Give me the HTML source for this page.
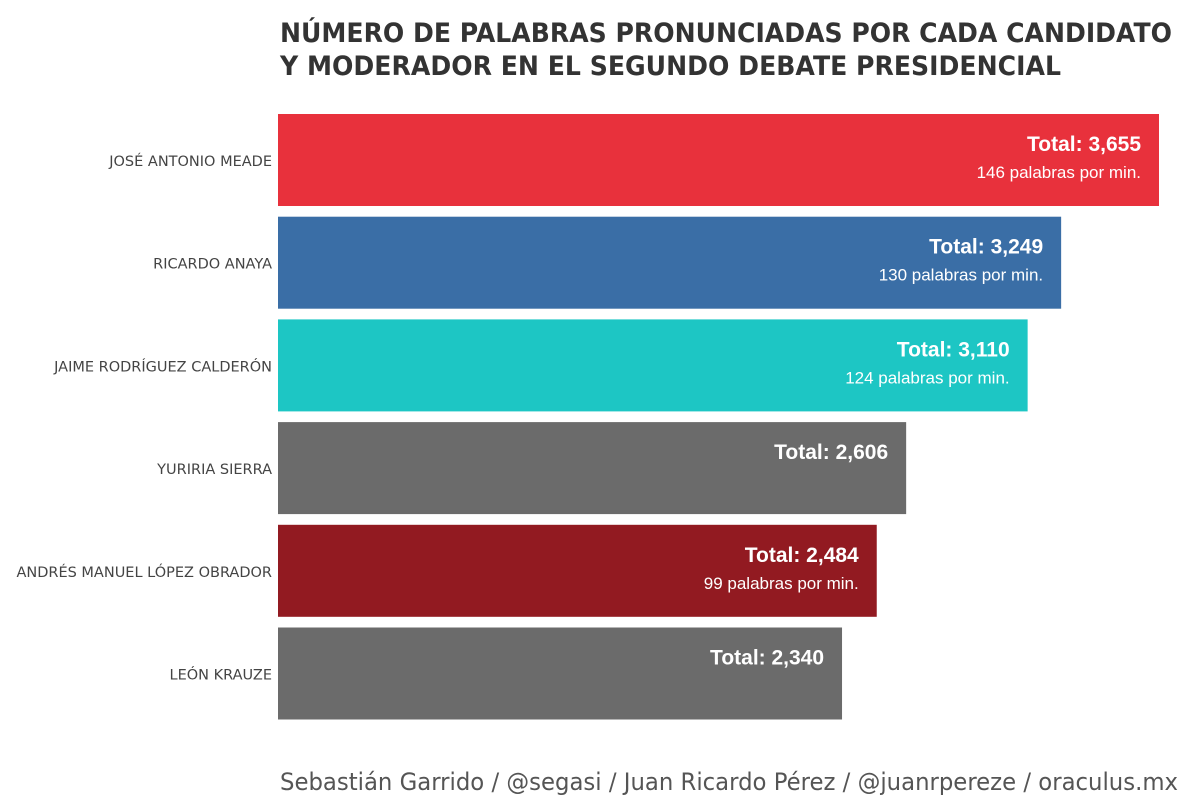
<!DOCTYPE html>
<html><head><meta charset="utf-8"><style>
body{margin:0;width:1200px;height:800px;background:#fff;overflow:hidden;font-family:"Liberation Sans",sans-serif}
</style></head><body>
<svg width="1200" height="800">
<text x="280" y="42" font-family="DejaVu Sans" font-weight="bold" font-size="27" fill="#333" textLength="892" lengthAdjust="spacingAndGlyphs">NÚMERO DE PALABRAS PRONUNCIADAS POR CADA CANDIDATO</text>
<text x="280" y="75" font-family="DejaVu Sans" font-weight="bold" font-size="27" fill="#333" textLength="781" lengthAdjust="spacingAndGlyphs">Y MODERADOR EN EL SEGUNDO DEBATE PRESIDENCIAL</text>
<g id="bars"></g>
<text x="280" y="790" font-family="DejaVu Sans" font-size="24" fill="#555" textLength="898" lengthAdjust="spacingAndGlyphs">Sebastián Garrido / @segasi / Juan Ricardo Pérez / @juanrpereze / oraculus.mx</text>
</svg>
<script>
const names=["JOSÉ ANTONIO MEADE","RICARDO ANAYA","JAIME RODRÍGUEZ CALDERÓN","YURIRIA SIERRA","ANDRÉS MANUEL LÓPEZ OBRADOR","LEÓN KRAUZE"];
const totals=[3655,3249,3110,2606,2484,2340];
const perMin=[146,130,124,null,99,null];
const colors=["#E8313C","#3A6EA6","#1DC6C4","#6B6B6B","#921A21","#6B6B6B"];
const x0=278, scale=881/3655;
const xs=v=>x0+v*scale;
const yb=i=>114+i*102.7;
const g=document.getElementById('bars');
const NS="http://www.w3.org/2000/svg";
function mk(t,a){const e=document.createElementNS(NS,t);for(const k in a)e.setAttribute(k,a[k]);return e;}
names.forEach((n,i)=>{
  const y=yb(i), h=92, xe=xs(totals[i]);
  const r=mk('rect',{x:x0,y:y,width:xe-x0,height:h,fill:colors[i]});
  
  
  g.appendChild(r);
  const l=mk('text',{x:272,y:y+h/2+6,'text-anchor':'end','font-family':'DejaVu Sans','font-size':'14.5',fill:'#444'});
  l.textContent=n;
  
  
  g.appendChild(l);
  const t=mk('text',{x:xe-18,y:y+37,'text-anchor':'end','font-weight':'bold','font-size':'21',fill:'#fff'});
  t.textContent='Total: '+totals[i].toLocaleString('en-US');
  
  
  g.appendChild(t);
  if(perMin[i]!=null){
    const s=mk('text',{x:xe-18,y:y+64,'text-anchor':'end','font-size':'17',fill:'#fff'});
    s.textContent=perMin[i]+' palabras por min.';
    
    
    g.appendChild(s);
  }
});
</script>
</body></html>
